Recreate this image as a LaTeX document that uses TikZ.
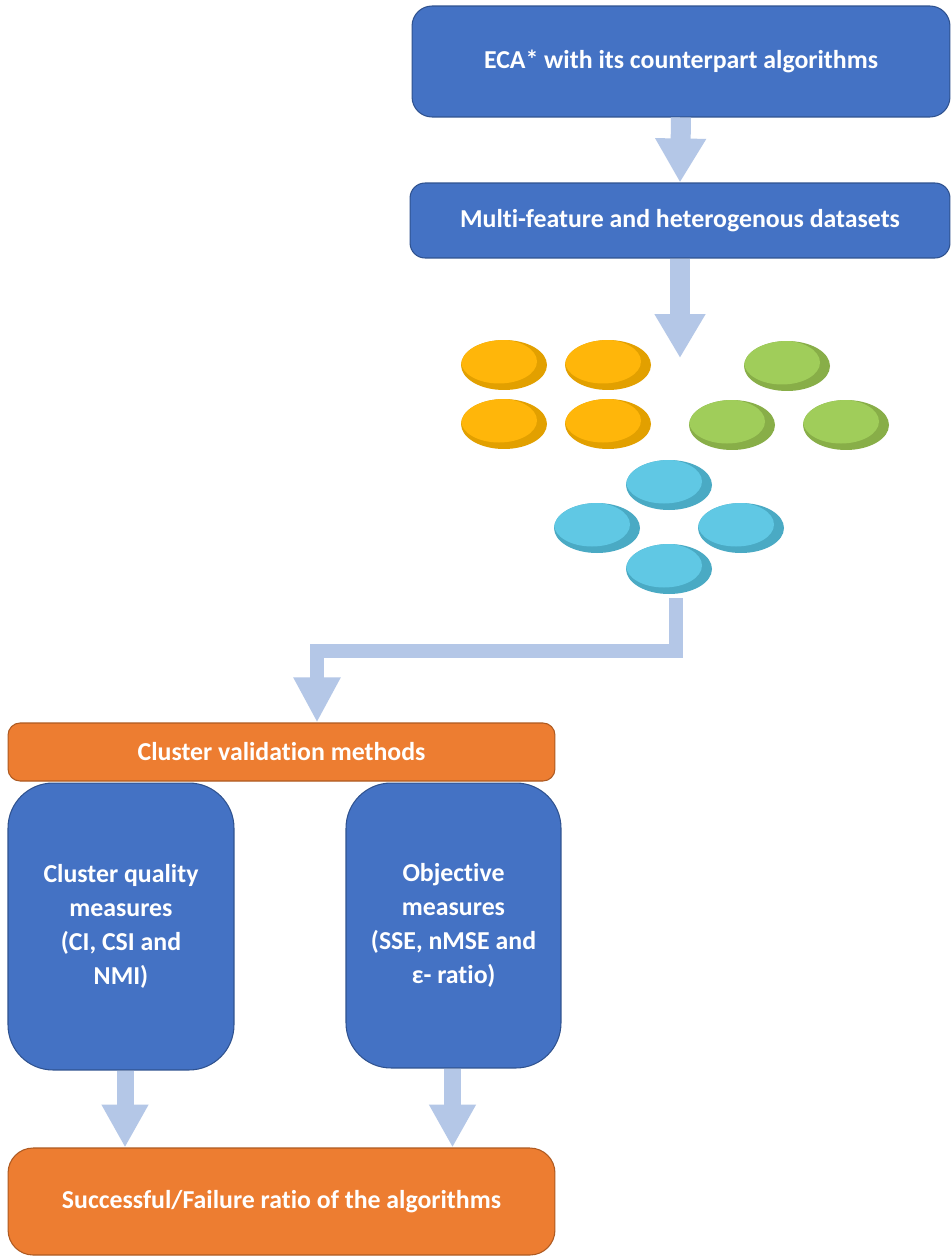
\documentclass[tikz,border=0pt]{standalone}
\usepackage{fontspec}
\setmainfont{Carlito}[RawFeature=-liga]
\usetikzlibrary{arrows.meta,shapes.geometric,calc}
\definecolor{boxblue}{HTML}{4472C4}
\definecolor{boxblueb}{HTML}{2F528F}
\definecolor{boxorange}{HTML}{ED7D31}
\definecolor{boxorangeb}{HTML}{AE5A21}
\definecolor{arrowblue}{HTML}{B4C7E7}
\definecolor{orL}{HTML}{FFB60A}
\definecolor{orD}{HTML}{E2A000}
\definecolor{grL}{HTML}{A0CD5A}
\definecolor{grD}{HTML}{88AE48}
\definecolor{blL}{HTML}{60C8E4}
\definecolor{blD}{HTML}{4AAAC4}
\begin{document}
\begin{tikzpicture}[x=0.02cm,y=-0.02cm,
  txt/.style={text=white,font=\fontsize{14.7pt}{19.3pt}\selectfont\bfseries,align=center},
  bluebox/.style={txt,fill=boxblue,draw=boxblueb,line width=0.6pt,inner sep=0pt},
  orangebox/.style={txt,fill=boxorange,draw=boxorangeb,line width=0.6pt,inner sep=0pt},
  bigarrow/.style={draw=arrowblue,line width=0.4cm,-{Triangle[width=0.96cm,length=0.88cm]}},
  midarrow/.style={draw=arrowblue,line width=0.34cm,-{Triangle[width=0.88cm,length=0.86cm]}},
  bentarrow/.style={draw=arrowblue,line width=0.29cm,line join=miter,-{Triangle[width=0.88cm,length=0.9cm]}},
  blob/.style n args={2}{ellipse,minimum width=1.72cm,minimum height=1.0cm,inner sep=0pt,fill=#2,
     path picture={\fill[#1] ($(path picture bounding box.center)+(-5,-3.5)$) ellipse (0.76cm and 0.44cm);}},
  orblob/.style={blob={orL}{orD}},
  grblob/.style={blob={grL}{grD}},
  blblob/.style={blob={blL}{blD}}
]
\useasboundingbox[fill=white] (0,0) rectangle (952,1257);

% top boxes
\node[bluebox,rounded corners=0.4cm,minimum width=10.76cm,minimum height=2.22cm] (b1) at (681,61.5) {ECA* with its counterpart algorithms};
\node[bluebox,rounded corners=0.3cm,minimum width=10.8cm,minimum height=1.5cm] (b2) at (680,220.5) {Multi-feature and heterogenous datasets};

% clusters
\node[orblob] (o1) at (504,365) {};
\node[orblob] (o2) at (608,365) {};
\node[orblob] (o3) at (504,424) {};
\node[orblob] (o4) at (608,424) {};
\node[grblob] (g1) at (787,366) {};
\node[grblob] (g2) at (732,425) {};
\node[grblob] (g3) at (846,425) {};
\node[blblob] (c1) at (669,485) {};
\node[blblob] (c2) at (597,528) {};
\node[blblob] (c3) at (741,528) {};
\node[blblob] (c4) at (669,569) {};

% lower boxes
\node[orangebox,rounded corners=0.24cm,minimum width=10.94cm,minimum height=1.16cm] (cv) at (281.5,752) {Cluster validation methods};
\node[bluebox,rounded corners=0.9cm,minimum width=4.52cm,minimum height=5.74cm] (q) at (121,926.5) {Cluster quality\\measures\\(CI, CSI and\\NMI)};
\node[bluebox,rounded corners=0.9cm,minimum width=4.3cm,minimum height=5.7cm] (o) at (453.5,925.5) {Objective\\measures\\(SSE, nMSE and\\ε- ratio)};
\node[orangebox,rounded corners=0.5cm,minimum width=10.94cm,minimum height=2.14cm] (sf) at (281.5,1201.5) {Successful/Failure ratio of the algorithms};

% connectors
\coordinate (t2) at (680,358);
\coordinate (s3) at (676,598);
\coordinate (k1) at (676,651);
\coordinate (k2) at (317,651);
\draw[bigarrow] (b1.south) -- (b2.north);
\draw[bigarrow] (b2.south) -- (t2);
\draw[bentarrow] (s3) -- (k1) -- (k2) -- (k2 |- cv.north);
\draw[midarrow] ($(q.south)+(4,0)$) -- ($(q.south |- sf.north)+(4,0)$);
\draw[midarrow] ($(o.south)+(-1,0)$) -- ($(o.south |- sf.north)+(-1,0)$);
\end{tikzpicture}
\end{document}
